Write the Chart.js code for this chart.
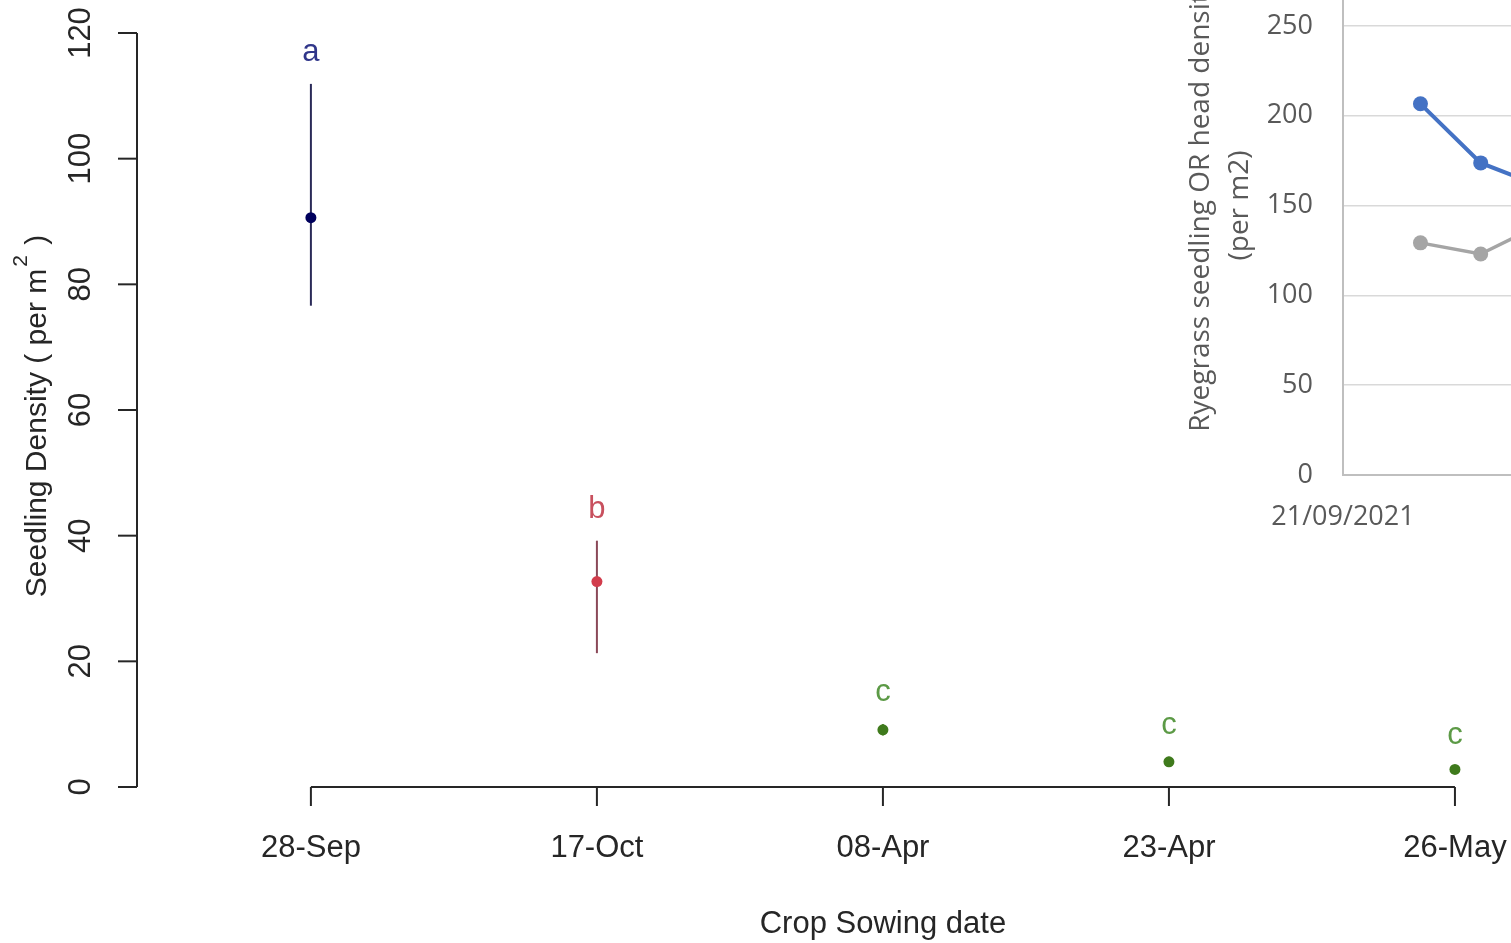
<!DOCTYPE html>
<html><head><meta charset="utf-8">
<script src="https://cdn.jsdelivr.net/npm/chart.js@4.4.0/dist/chart.umd.min.js"></script>
<style>
html,body{margin:0;padding:0;background:#fff;overflow:hidden;width:1511px;height:943px;position:relative;}
#main{position:absolute;left:0;top:0;}
#inset{position:absolute;left:1160px;top:-100px;background:#fff;}
</style></head><body>
<canvas id="main" width="1511" height="943"></canvas>
<canvas id="inset" width="665" height="700"></canvas>
<script>
// ---- main (R-style) chart data ----
const categories = ['28-Sep', '17-Oct', '08-Apr', '23-Apr', '26-May'];
const means      = [90.6, 32.7, 9.1, 4.0, 2.8];
const lowerCI    = [76.6, 21.3, 8.2, 3.3, 2.4];
const upperCI    = [111.9, 39.2, 10.0, 4.8, 3.2];
const letters    = ['a', 'b', 'c', 'c', 'c'];
const yTicks     = [0, 20, 40, 60, 80, 100, 120];
const xTitle = 'Crop Sowing date';
const yTitleMain = 'Seedling Density ( per m';
const yTitleSup = '2';
const yTitleEnd = ' )';

// ---- inset (Excel-style) chart data ----
const insetStartLabel = '21/09/2021';
const insetDays      = [9, 16, 23];          // days after 21/09/2021
const insetSeedling  = [206.6, 173.7, 160.6];
const insetHeads     = [129.2, 123.0, 139.5];
const insetYTicks    = [0, 50, 100, 150, 200, 250, 300];
const insetYTitle    = ['Ryegrass seedling OR head density', '(per m2)'];

// styles
const ptColors     = ['#00005c', '#d23c4c', '#3f7a1c', '#3f7a1c', '#3f7a1c'];
const barColors    = ['#2a2a58', '#8a4858', '#3f7a1c', '#3f7a1c', '#3f7a1c'];
const letterColors = ['#30368a', '#c8505e', '#5c9a46', '#5c9a46', '#5c9a46'];
const FONT = "'Liberation Sans', Arial, sans-serif";

const rPlugin = {
  id: 'rstyle',
  beforeDatasetsDraw(chart) {
    const ctx = chart.ctx, xs = chart.scales.x, ys = chart.scales.y;
    ctx.save();
    ctx.lineWidth = 2;
    categories.forEach((c, i) => {
      const px = xs.getPixelForValue(i + 1);
      ctx.strokeStyle = barColors[i];
      ctx.beginPath();
      ctx.moveTo(px, ys.getPixelForValue(lowerCI[i]));
      ctx.lineTo(px, ys.getPixelForValue(upperCI[i]));
      ctx.stroke();
    });
    ctx.restore();
  },
  afterDatasetsDraw(chart) {
    const ctx = chart.ctx, xs = chart.scales.x, ys = chart.scales.y, ca = chart.chartArea;
    ctx.save();
    // letters
    ctx.font = '31px ' + FONT;
    ctx.textAlign = 'center';
    ctx.textBaseline = 'alphabetic';
    categories.forEach((c, i) => {
      ctx.fillStyle = letterColors[i];
      ctx.fillText(letters[i], xs.getPixelForValue(i + 1), ys.getPixelForValue(upperCI[i]) - 23);
    });
    // y axis
    ctx.strokeStyle = '#262626';
    ctx.fillStyle = '#262626';
    ctx.lineWidth = 2;
    const ax = ca.left;
    ctx.beginPath();
    ctx.moveTo(ax, ys.getPixelForValue(yTicks[0]));
    ctx.lineTo(ax, ys.getPixelForValue(yTicks[yTicks.length - 1]));
    ctx.stroke();
    yTicks.forEach(v => {
      const py = ys.getPixelForValue(v);
      ctx.beginPath(); ctx.moveTo(ax - 19, py); ctx.lineTo(ax, py); ctx.stroke();
      ctx.save();
      ctx.translate(ax - 47, py);
      ctx.rotate(-Math.PI / 2);
      ctx.textAlign = 'center';
      ctx.textBaseline = 'alphabetic';
      ctx.fillText(String(v), 0, 0);
      ctx.restore();
    });
    // x axis
    const y0 = ys.getPixelForValue(0);
    const x1 = xs.getPixelForValue(1), x5 = xs.getPixelForValue(categories.length);
    ctx.beginPath(); ctx.moveTo(x1, y0); ctx.lineTo(x5, y0); ctx.stroke();
    ctx.textAlign = 'center';
    ctx.textBaseline = 'alphabetic';
    categories.forEach((c, i) => {
      const px = xs.getPixelForValue(i + 1);
      ctx.beginPath(); ctx.moveTo(px, y0); ctx.lineTo(px, y0 + 19); ctx.stroke();
      ctx.fillText(c, px, y0 + 70);
    });
    ctx.fillText(xTitle, xs.getPixelForValue(3), y0 + 146);
    // y title with superscript
    ctx.save();
    const cy = (ys.getPixelForValue(0) + ys.getPixelForValue(120)) / 2 + 6;
    ctx.translate(46, cy);
    ctx.rotate(-Math.PI / 2);
    ctx.textAlign = 'left';
    ctx.font = '30px ' + FONT;
    const w1 = ctx.measureText(yTitleMain).width;
    const w3 = ctx.measureText(yTitleEnd).width;
    ctx.font = '21px ' + FONT;
    const w2 = ctx.measureText(yTitleSup).width;
    const total = w1 + w2 + w3 + 4;
    let sx = -total / 2;
    ctx.font = '30px ' + FONT;
    ctx.fillText(yTitleMain, sx, 0);
    sx += w1 + 2;
    ctx.font = '21px ' + FONT;
    ctx.fillText(yTitleSup, sx, -19);
    sx += w2 + 2;
    ctx.font = '30px ' + FONT;
    ctx.fillText(yTitleEnd, sx, 0);
    ctx.restore();
    ctx.restore();
  }
};

new Chart(document.getElementById('main'), {
  type: 'scatter',
  data: {
    datasets: [{
      data: means.map((m, i) => ({ x: i + 1, y: m })),
      pointRadius: 5.5,
      pointBackgroundColor: ptColors,
      pointBorderColor: ptColors,
      pointBorderWidth: 0,
      showLine: false,
      clip: false
    }]
  },
  options: {
    responsive: false, animation: false, devicePixelRatio: 1,
    layout: { autoPadding: false, padding: { left: 137, top: 33, right: 0, bottom: 156 } },
    plugins: { legend: { display: false }, tooltip: { enabled: false } },
    scales: {
      x: { type: 'linear', min: 0.392, max: 5.196, display: false },
      y: { type: 'linear', min: 0, max: 120, display: false }
    }
  },
  plugins: [rPlugin]
});

const IFONT = "'Open Sans', 'Noto Sans', sans-serif";
const zeroPad = s => { s.paddingTop = 0; s.paddingBottom = 0; s.paddingLeft = 0; s.paddingRight = 0; };
new Chart(document.getElementById('inset'), {
  type: 'line',
  data: {
    datasets: [
      {
        label: 'Ryegrass seedling density',
        data: insetDays.map((d, i) => ({ x: d, y: insetSeedling[i] })),
        borderColor: '#4472C4', backgroundColor: '#4472C4',
        borderWidth: 4, pointRadius: 7.5, pointBorderWidth: 0, tension: 0
      },
      {
        label: 'Ryegrass head density',
        data: insetDays.map((d, i) => ({ x: d, y: insetHeads[i] })),
        borderColor: '#A5A5A5', backgroundColor: '#A5A5A5',
        borderWidth: 3.5, pointRadius: 7.5, pointBorderWidth: 0, tension: 0
      }
    ]
  },
  options: {
    responsive: false, animation: false, devicePixelRatio: 1,
    layout: { autoPadding: false, padding: { left: 0, top: 36, right: 0, bottom: 0 } },
    plugins: { legend: { display: false }, tooltip: { enabled: false } },
    scales: {
      x: {
        type: 'linear', min: 0, max: 56,
        afterBuildTicks: s => { s.ticks = [{ value: 0 }]; },
        afterFit: s => { s.height = 125; zeroPad(s); },
        grid: { display: false, drawTicks: false },
        border: { display: true, color: '#BFBFBF', width: 2 },
        ticks: { padding: 26, color: '#595959', font: { family: IFONT, size: 27 },
                 maxRotation: 0, autoSkip: false,
                 callback: v => (v === 0 ? insetStartLabel : '') }
      },
      y: {
        type: 'linear', min: 0, max: 300,
        afterBuildTicks: s => { s.ticks = insetYTicks.map(v => ({ value: v })); },
        afterFit: s => { s.width = 183; zeroPad(s); },
        grid: { color: '#D9D9D9', lineWidth: 1.5, drawTicks: false },
        border: { display: true, color: '#BFBFBF', width: 2 },
        ticks: { padding: 30, color: '#595959', font: { family: IFONT, size: 27 } },
        title: { display: true, text: insetYTitle, color: '#595959',
                 font: { family: IFONT, size: 28, lineHeight: 1.4 },
                 padding: { top: 21, bottom: 0 } }
      }
    }
  }
});
</script>
</body></html>
